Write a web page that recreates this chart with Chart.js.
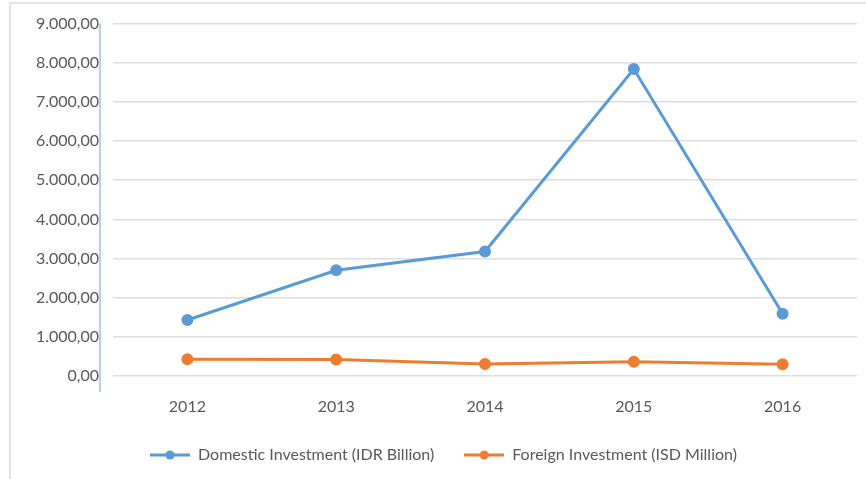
<!DOCTYPE html>
<html lang="en">
<head>
  <meta charset="UTF-8">
  <title>Domestic and Foreign Investment 2012-2016</title>
  <script src="https://cdn.jsdelivr.net/npm/chart.js"></script>
  <style>
    body {
      margin: 0;
      background: #ffffff;
      overflow: hidden;
    }

    #frame {
      position: absolute;
      left: 9px;
      top: 2px;
      width: 880px;
      height: 500px;
      border: 2px solid #e3e3e3;
    }

    #chart-container {
      position: absolute;
      left: 0;
      top: 0;
      width: 866px;
      height: 479px;
    }
  </style>
</head>
<body>
  <div id="frame"></div>
  <div id="chart-container">
    <canvas id="investChart"></canvas>
  </div>
  <script>
    // data
    const years = ["2012", "2013", "2014", "2015", "2016"];
    const domesticInvestment = [1430, 2700, 3180, 7840, 1590];
    const foreignInvestment = [425, 420, 305, 365, 300];
    const seriesNames = ["Domestic Investment (IDR Billion)", "Foreign Investment (ISD Million)"];

    const blue = "#5b9bd5";
    const orange = "#ed7d31";
    const textGray = "#595959";

    // 9000 -> "9.000,00"
    function formatNumber(v) {
      const parts = Math.abs(v).toFixed(2).split(".");
      const intPart = parts[0].replace(/\B(?=(\d{3})+(?!\d))/g, ".");
      return (v < 0 ? "-" : "") + intPart + "," + parts[1];
    }

    // legend marker: short line with a dot in the middle
    function legendMarker(color) {
      const c = document.createElement("canvas");
      c.width = 40;
      c.height = 12;
      const g = c.getContext("2d");
      g.strokeStyle = color;
      g.lineWidth = 3;
      g.beginPath();
      g.moveTo(0, 6);
      g.lineTo(40, 6);
      g.stroke();
      g.fillStyle = color;
      g.beginPath();
      g.arc(20, 6, 4.5, 0, Math.PI * 2);
      g.fill();
      return c;
    }

    // the value axis line sits a little left of the plot area, like Excel draws it
    const axisLinePlugin = {
      id: "axisLine",
      afterDraw(chart) {
        const { ctx, chartArea } = chart;
        const x = chartArea.left - 13;
        ctx.save();
        ctx.strokeStyle = "#9dc3e6";
        ctx.lineWidth = 1.5;
        ctx.beginPath();
        ctx.moveTo(x, chartArea.top);
        ctx.lineTo(x, chartArea.bottom + 16);
        ctx.stroke();
        ctx.restore();
      }
    };

    const ctx = document.getElementById("investChart").getContext("2d");
    new Chart(ctx, {
      type: "line",
      data: {
        labels: years,
        datasets: [
          {
            label: seriesNames[0],
            data: domesticInvestment,
            borderColor: blue,
            backgroundColor: blue,
            borderWidth: 3,
            pointRadius: 4.5,
            pointHoverRadius: 4.5,
            pointStyle: "circle",
            tension: 0,
            fill: false
          },
          {
            label: seriesNames[1],
            data: foreignInvestment,
            borderColor: orange,
            backgroundColor: orange,
            borderWidth: 3,
            pointRadius: 4.5,
            pointHoverRadius: 4.5,
            pointStyle: "circle",
            tension: 0,
            fill: false
          }
        ]
      },
      options: {
        responsive: true,
        maintainAspectRatio: false,
        animation: false,
        layout: {
          padding: { left: 30, right: 9, top: 23, bottom: 6 }
        },
        plugins: {
          tooltip: { enabled: false },
          legend: {
            position: "bottom",
            labels: {
              usePointStyle: true,
              pointStyleWidth: 40,
              generateLabels(chart) {
                return chart.data.datasets.map((ds, i) => ({
                  text: ds.label,
                  pointStyle: legendMarker(ds.borderColor),
                  fillStyle: ds.borderColor,
                  strokeStyle: ds.borderColor,
                  fontColor: textGray,
                  lineWidth: 0,
                  hidden: false,
                  datasetIndex: i
                }));
              },
              padding: 30,
              color: textGray,
              font: { family: "Lato", size: 16 }
            }
          }
        },
        scales: {
          x: {
            offset: true,
            grid: { display: false, drawTicks: false },
            border: { display: false },
            afterFit(scale) { scale.height = 41; },
            ticks: {
              padding: 21,
              color: textGray,
              font: { family: "Lato", size: 16 }
            }
          },
          y: {
            min: 0,
            max: 9000,
            afterFit(scale) { scale.width = 83; },
            grid: { color: "#dedede", lineWidth: 1.5, drawTicks: false },
            border: { display: false },
            ticks: {
              stepSize: 1000,
              padding: 14,
              color: textGray,
              font: { family: "Lato", size: 16 },
              callback: (v) => formatNumber(v)
            }
          }
        }
      },
      plugins: [axisLinePlugin]
    });
  </script>
</body>
</html>
